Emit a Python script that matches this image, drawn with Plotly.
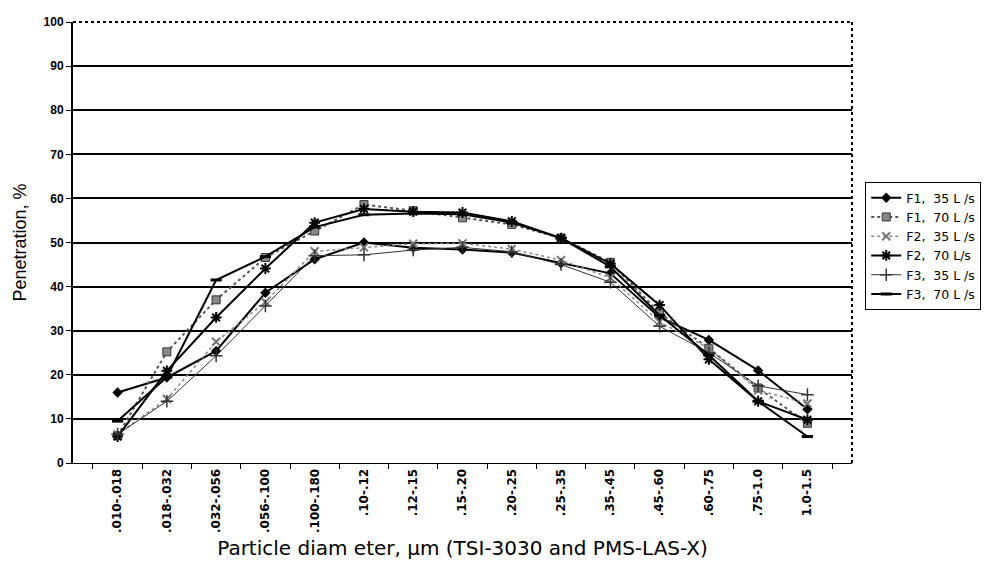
import plotly.graph_objects as go

categories = [".010-.018", ".018-.032", ".032-.056", ".056-.100", ".100-.180",
              ".10-.12", ".12-.15", ".15-.20", ".20-.25", ".25-.35", ".35-.45",
              ".45-.60", ".60-.75", ".75-1.0", "1.0-1.5"]

f1_35 = [16.0, 19.4, 25.4, 38.6, 46.2, 50.0, 48.8, 48.4, 47.7, 45.3, 43.0, 33.0, 27.9, 21.0, 12.2]
f1_70 = [6.2, 25.2, 37.0, 46.6, 52.6, 58.6, 57.2, 55.6, 54.1, 51.0, 45.5, 34.0, 26.0, 17.0, 9.0]
f2_35 = [6.5, 14.5, 27.5, 36.5, 48.0, 48.9, 49.7, 49.8, 48.5, 46.0, 42.0, 32.0, 26.0, 16.5, 13.5]
f2_70 = [6.0, 20.9, 33.0, 44.1, 54.5, 57.6, 57.0, 56.8, 54.8, 51.0, 45.2, 35.8, 23.5, 14.0, 9.8]
f3_35 = [6.5, 14.0, 24.3, 35.6, 47.0, 47.2, 48.3, 48.9, 47.9, 45.0, 41.0, 31.0, 25.0, 17.5, 15.5]
f3_70 = [9.5, 19.5, 41.5, 46.8, 53.5, 56.3, 56.6, 56.4, 54.5, 51.0, 44.5, 33.5, 24.5, 14.0, 6.0]

names = ["F1,  35 L /s", "F1,  70 L /s", "F2,  35 L /s", "F2,  70 L/s", "F3,  35 L /s", "F3,  70 L /s"]
series = [f1_35, f1_70, f2_35, f2_70, f3_35, f3_70]

styles = [
    dict(line=dict(color="black", width=2), marker=dict(symbol="diamond", size=8, color="black")),
    dict(line=dict(color="#555555", width=2, dash="dot"),
         marker=dict(symbol="square", size=8, color="#888888", line=dict(color="#333333", width=1))),
    dict(line=dict(color="#888888", width=1.5, dash="dot"),
         marker=dict(symbol="x-thin-open", size=8, color="#777777", line=dict(color="#777777", width=2))),
    dict(line=dict(color="black", width=2),
         marker=dict(symbol="asterisk-open", size=9, color="black", line=dict(color="black", width=2))),
    dict(line=dict(color="#333333", width=1),
         marker=dict(symbol="cross-thin-open", size=9, color="#333333", line=dict(color="#333333", width=1.5))),
    dict(line=dict(color="black", width=2),
         marker=dict(symbol="line-ew-open", size=8, color="black", line=dict(color="black", width=3))),
]

fig = go.Figure()
for name, vals, st in zip(names, series, styles):
    fig.add_trace(go.Scatter(x=categories, y=vals, mode="lines+markers", name=name,
                             line=st["line"], marker=st["marker"]))

font = "Liberation Sans, Arial, sans-serif"
wide = "DejaVu Sans, sans-serif"

fig.update_layout(
    width=996, height=561,
    margin=dict(l=73, r=144, t=22, b=98),
    paper_bgcolor="white", plot_bgcolor="white",
    font=dict(family=font, color="black", size=12),
    showlegend=True,
    legend=dict(x=1.017, y=0.637, xanchor="left", yanchor="top",
                bordercolor="black", borderwidth=1, bgcolor="white",
                font=dict(size=12.5, family=wide), tracegroupgap=0, itemwidth=30),
    xaxis=dict(type="category", tickangle=-90, showgrid=False, automargin=False,
               showline=True, linecolor="black", linewidth=1,
               ticks="outside", tickson="boundaries", ticklen=5, tickcolor="black",
               tickfont=dict(size=12, family=wide, weight="bold"),
               title=dict(text="Particle diam eter, µm (TSI-3030 and PMS-LAS-X)",
                          font=dict(size=20, family=wide), standoff=8)),
    yaxis=dict(range=[0, 100], dtick=10, showgrid=True, gridcolor="black", gridwidth=1.5,
               showline=True, linecolor="black", linewidth=2, automargin=False,
               ticks="outside", ticklen=5, tickcolor="black",
               tickfont=dict(size=12, weight="bold"),
               zeroline=False,
               title=dict(text="Penetration, %", font=dict(size=18), standoff=12)),
)

fig.add_shape(type="line", xref="paper", yref="paper", x0=0, x1=1, y0=1, y1=1,
              line=dict(color="black", width=2, dash="dot"))
fig.add_shape(type="line", xref="paper", yref="paper", x0=1, x1=1, y0=0, y1=1,
              line=dict(color="black", width=2, dash="dot"))

fig.write_html("out.html")
